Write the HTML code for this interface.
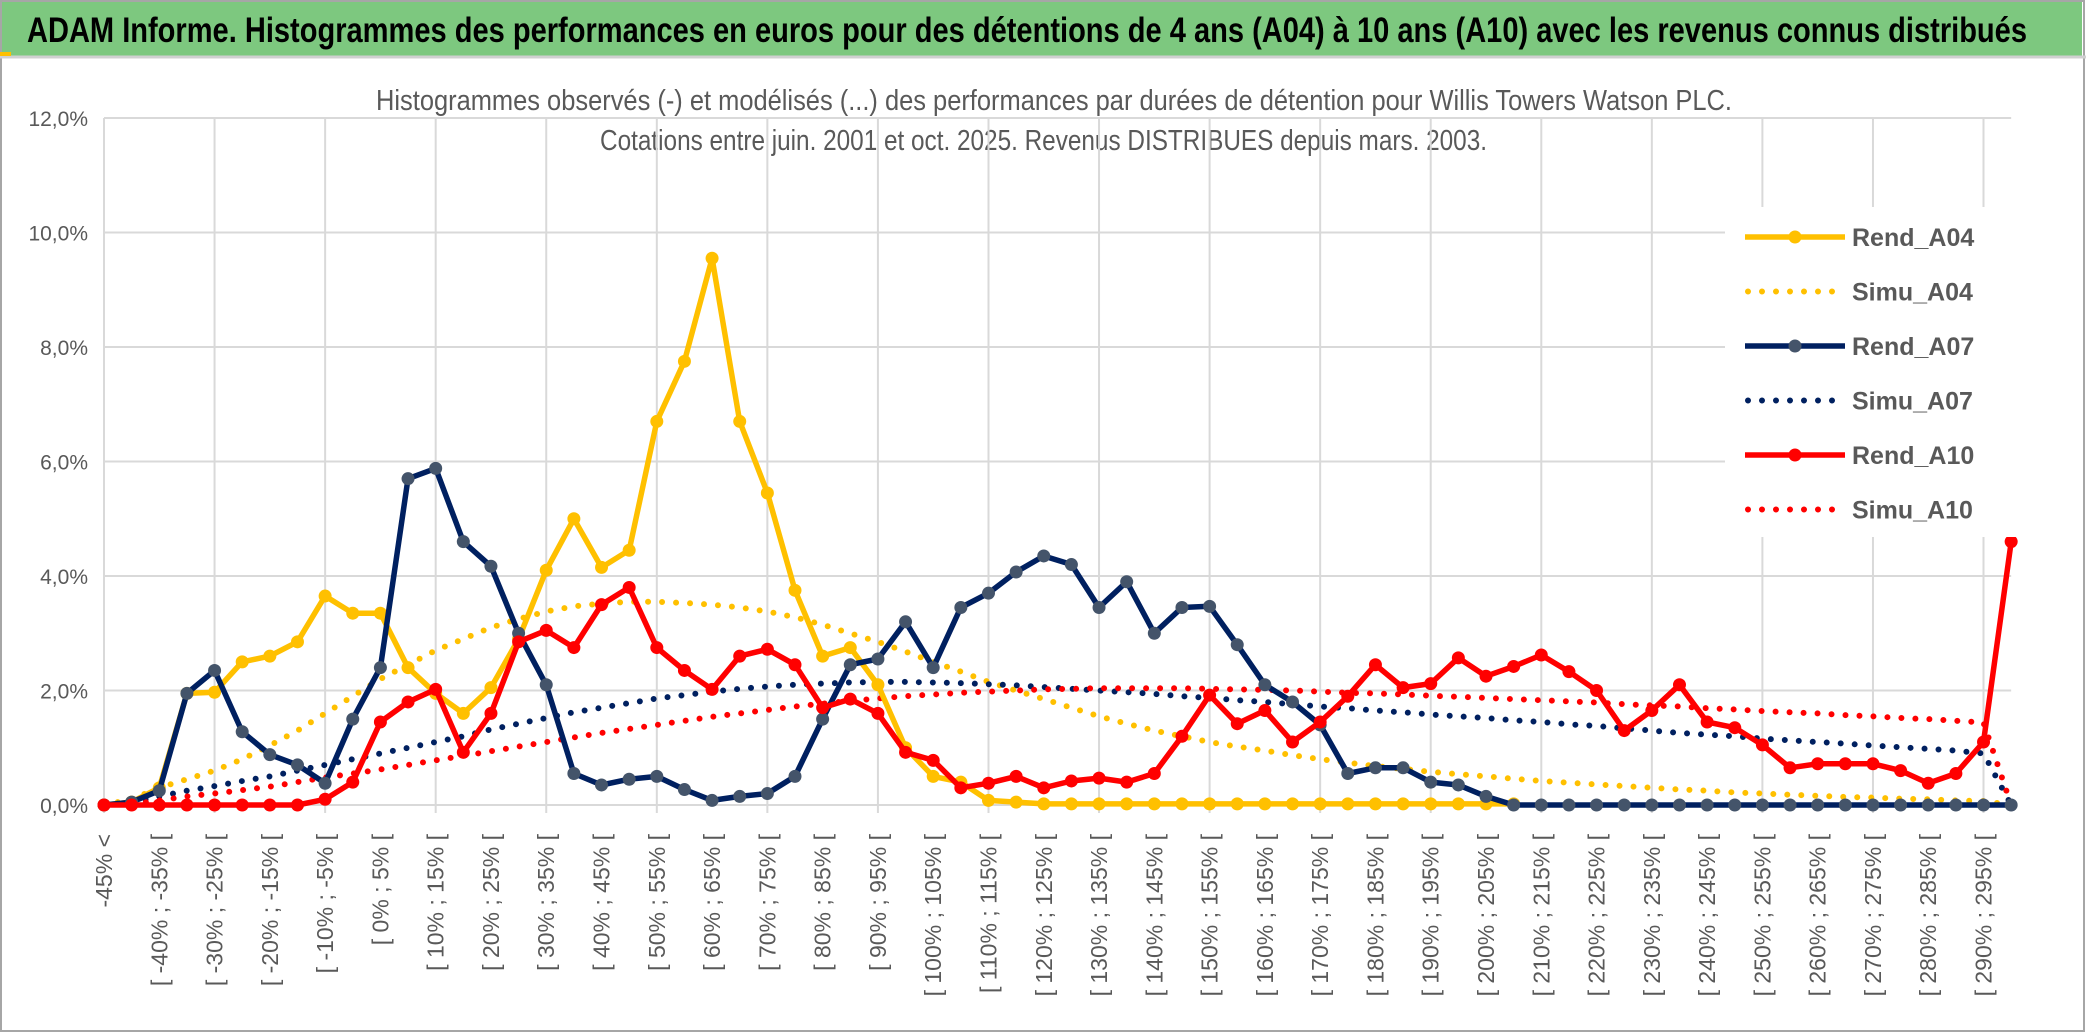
<!DOCTYPE html>
<html><head><meta charset="utf-8"><style>
html,body{margin:0;padding:0;background:#fff;}
svg{display:block;font-family:"Liberation Sans",sans-serif;}
</style></head><body>
<svg id="chart" width="2086" height="1033" viewBox="0 0 2086 1033">
<rect x="0" y="0" width="2086" height="1033" fill="#fff"/>
<rect x="1" y="1" width="2083" height="1030" fill="none" stroke="#a6a6a6" stroke-width="2"/>
<rect x="2" y="2" width="2080" height="54" fill="#7dc87f"/>
<line x1="0" y1="57" x2="2086" y2="57" stroke="#d0d0d0" stroke-width="3"/>
<rect x="0" y="52" width="11" height="4" fill="#ffc000"/>
<text x="27" y="42" font-size="35" font-weight="bold" fill="#000" textLength="2000" lengthAdjust="spacingAndGlyphs">ADAM Informe. Histogrammes des performances en euros pour des détentions de 4 ans (A04) à 10 ans (A10) avec les revenus connus distribués</text>
<text x="376" y="110" font-size="29" fill="#595959" textLength="1356" lengthAdjust="spacingAndGlyphs">Histogrammes observés (-) et modélisés (...) des performances par durées de détention pour Willis Towers Watson PLC.</text>
<text x="600" y="150" font-size="29" fill="#595959" textLength="887" lengthAdjust="spacingAndGlyphs">Cotations entre juin. 2001 et oct. 2025. Revenus DISTRIBUES depuis mars. 2003.</text>
<g id="grid"></g>
<g id="ylabels"></g>
<g id="xlabels"></g>
<g id="series"></g>
<g id="legend"></g>
</svg>
<script>
const categories = [];
categories.push("-45% <");
for (let i = 1; i < 70; i++) { const lo = -50 + 5 * i; categories.push("[ " + lo + "% ; " + (lo + 5) + "% ["); }
const yTicks = [0, 2, 4, 6, 8, 10, 12];
const yTickLabels = ["0,0%", "2,0%", "4,0%", "6,0%", "8,0%", "10,0%", "12,0%"];
const rendA04 = [0,0.05,0.3,1.95,1.97,2.5,2.6,2.85,3.65,3.35,3.35,2.4,1.95,1.6,2.05,2.9,4.1,5.0,4.15,4.45,6.7,7.75,9.55,6.7,5.45,3.75,2.6,2.75,2.1,1.0,0.5,0.4,0.08,0.05,0.02,0.02,0.02,0.02,0.02,0.02,0.02,0.02,0.02,0.02,0.02,0.02,0.02,0.02,0.02,0.02,0.02,0.02];
const simuA04 = [0,0.1,0.3,0.45,0.6,0.8,1.04,1.3,1.6,1.9,2.2,2.45,2.7,2.9,3.1,3.25,3.38,3.47,3.52,3.55,3.55,3.53,3.5,3.45,3.38,3.28,3.15,3.0,2.85,2.68,2.5,2.33,2.15,2.0,1.85,1.7,1.55,1.42,1.3,1.2,1.1,1.02,0.95,0.87,0.8,0.74,0.68,0.63,0.58,0.54,0.5,0.46,0.42,0.39,0.36,0.33,0.3,0.27,0.25,0.22,0.2,0.18,0.16,0.14,0.13,0.11,0.1,0.08,0.07,0];
const rendA07 = [0,0.05,0.25,1.95,2.35,1.28,0.88,0.7,0.38,1.5,2.4,5.7,5.88,4.6,4.17,3.0,2.1,0.55,0.35,0.45,0.5,0.27,0.08,0.15,0.2,0.5,1.5,2.45,2.55,3.2,2.4,3.45,3.7,4.07,4.35,4.2,3.45,3.9,3.0,3.45,3.47,2.8,2.1,1.8,1.4,0.55,0.65,0.65,0.4,0.35,0.15,0,0,0,0,0,0,0,0,0,0,0,0,0,0,0,0,0,0,0];
const simuA07 = [0,0.05,0.15,0.25,0.33,0.42,0.5,0.6,0.7,0.8,0.9,1.0,1.1,1.2,1.32,1.42,1.52,1.62,1.7,1.78,1.86,1.92,1.98,2.03,2.07,2.1,2.12,2.14,2.15,2.15,2.14,2.13,2.11,2.09,2.06,2.03,2.0,1.97,1.94,1.9,1.87,1.83,1.8,1.76,1.72,1.69,1.65,1.62,1.58,1.55,1.52,1.48,1.45,1.41,1.38,1.34,1.3,1.26,1.23,1.2,1.16,1.13,1.1,1.07,1.04,1.01,0.98,0.95,0.9,0];
const rendA10 = [0,0,0,0,0,0,0,0,0.1,0.4,1.45,1.8,2.02,0.92,1.6,2.85,3.05,2.75,3.5,3.8,2.75,2.35,2.02,2.6,2.72,2.45,1.7,1.85,1.6,0.92,0.78,0.3,0.38,0.5,0.3,0.42,0.47,0.4,0.55,1.2,1.92,1.42,1.65,1.1,1.45,1.9,2.45,2.05,2.12,2.57,2.25,2.42,2.62,2.33,2.0,1.3,1.65,2.1,1.45,1.35,1.05,0.65,0.72,0.72,0.72,0.6,0.38,0.55,1.1,4.6];
const simuA10 = [0,0.02,0.08,0.15,0.2,0.26,0.32,0.4,0.48,0.55,0.62,0.7,0.78,0.86,0.94,1.02,1.1,1.18,1.26,1.33,1.4,1.47,1.54,1.6,1.66,1.72,1.77,1.82,1.86,1.9,1.93,1.96,1.98,2.0,2.02,2.03,2.04,2.04,2.04,2.04,2.03,2.02,2.01,2.0,1.98,1.96,1.95,1.93,1.91,1.89,1.87,1.85,1.83,1.81,1.79,1.76,1.74,1.72,1.69,1.67,1.64,1.62,1.6,1.57,1.55,1.52,1.5,1.47,1.44,0];
const seriesNames = ["Rend_A04","Simu_A04","Rend_A07","Simu_A07","Rend_A10","Simu_A10"];

const NS = "http://www.w3.org/2000/svg";
const X0 = 104, XSTEP = 27.64, Y0 = 805, YTOP = 118, YMAX = 12;
function xPos(i){ return X0 + i * XSTEP; }
function yPos(v){ return Y0 - (v / YMAX) * (Y0 - YTOP); }
function mk(tag, attrs, parent){ const e = document.createElementNS(NS, tag); for (const k in attrs) e.setAttribute(k, attrs[k]); parent.appendChild(e); return e; }

const grid = document.getElementById("grid");
yTicks.forEach((t, i) => {
  const l = mk("line", {x1: X0, x2: xPos(69), y1: yPos(t), y2: yPos(t), stroke: "#d9d9d9", "stroke-width": 2}, grid);
  
  
  const tx = mk("text", {x: 88, y: yPos(t) + 8, "text-anchor": "end", "font-size": 21, fill: "#595959"}, document.getElementById("ylabels"));
  tx.textContent = yTickLabels[i];
  
  
});
for (let i = 0; i < categories.length; i += 4) {
  const l = mk("line", {x1: xPos(i), x2: xPos(i), y1: YTOP, y2: Y0 + 8, stroke: "#d9d9d9", "stroke-width": 2}, grid);
  
  
}
const xl = document.getElementById("xlabels");
for (let i = 0; i < categories.length; i += 2) {
  const x = xPos(i) + 8, y = 834;
  const tx = mk("text", {x: x, y: y, "text-anchor": "end", "font-size": 23, fill: "#595959", transform: "rotate(-90 " + x + " " + y + ")"}, xl);
  tx.textContent = categories[i];
  
  
}
const sg = document.getElementById("series");
function drawSeries(data, color, dotted, markerColor, name){
  const g = mk("g", {}, sg);
  
  
  const pts = data.map((v, i) => xPos(i).toFixed(1) + "," + yPos(v).toFixed(1)).join(" ");
  const attrs = {points: pts, fill: "none", stroke: color, "stroke-linejoin": "round"};
  if (dotted) { attrs["stroke-width"] = 6; attrs["stroke-dasharray"] = "0 14"; attrs["stroke-linecap"] = "round"; }
  else { attrs["stroke-width"] = 5.5; }
  const pl = mk("polyline", attrs, g);
  
  
  if (!dotted) {
    data.forEach((v, i) => {
      const c = mk("circle", {cx: xPos(i), cy: yPos(v), r: 6.5, fill: markerColor}, g);
      
      
    });
  }
}
drawSeries(simuA04, "#ffc000", true, null, "simu-a04");
drawSeries(simuA07, "#002060", true, null, "simu-a07");
drawSeries(simuA10, "#ff0000", true, null, "simu-a10");
drawSeries(rendA04, "#ffc000", false, "#ffc000", "rend-a04");
drawSeries(rendA07, "#002060", false, "#44546a", "rend-a07");
drawSeries(rendA10, "#ff0000", false, "#ff0000", "rend-a10");

const lg = document.getElementById("legend");
const bg = mk("rect", {x: 1725, y: 207, width: 300, height: 330, fill: "#fff"}, lg);


const legColors = ["#ffc000","#ffc000","#002060","#002060","#ff0000","#ff0000"];
const legMarkers = ["#ffc000",null,"#44546a",null,"#ff0000",null];
seriesNames.forEach((n, i) => {
  const y = 237 + i * 54.5;
  const g = mk("g", {}, lg);
  
  
  if (legMarkers[i]) {
    mk("line", {x1: 1745, x2: 1845, y1: y, y2: y, stroke: legColors[i], "stroke-width": 5.5}, g);
    mk("circle", {cx: 1795, cy: y, r: 6.5, fill: legMarkers[i]}, g);
  } else {
    mk("line", {x1: 1748, x2: 1845, y1: y, y2: y, stroke: legColors[i], "stroke-width": 6, "stroke-dasharray": "0 14", "stroke-linecap": "round"}, g);
  }
  const t = mk("text", {x: 1852, y: y + 9, "font-size": 25, "font-weight": "bold", fill: "#595959"}, g);
  t.textContent = n;
});
</script>
</body></html>
